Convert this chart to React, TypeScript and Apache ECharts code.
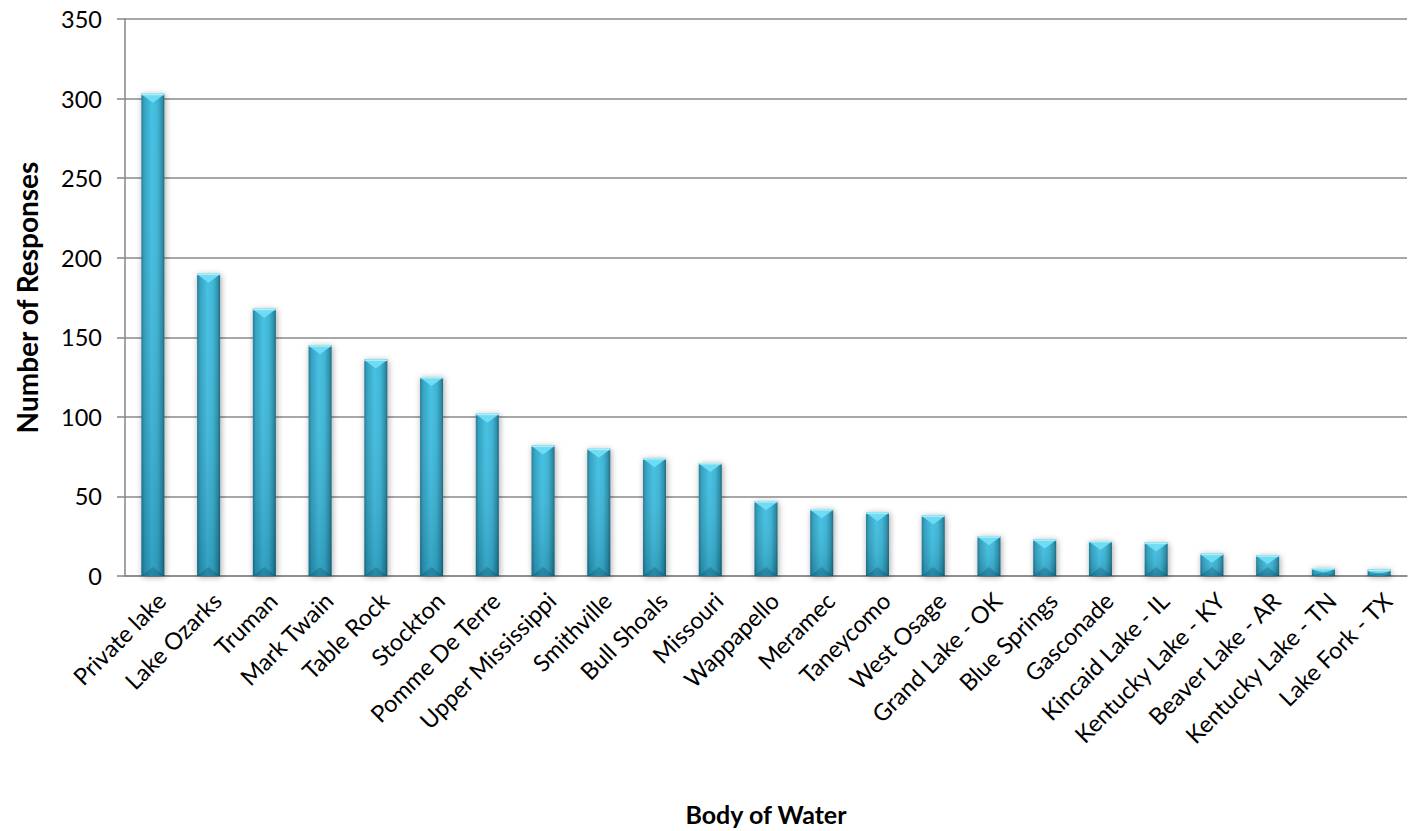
import React, { useEffect, useRef } from "react";
import * as echarts from "echarts";

const categories = [
  "Private lake", "Lake Ozarks", "Truman", "Mark Twain", "Table Rock", "Stockton",
  "Pomme De Terre", "Upper Mississippi", "Smithville", "Bull Shoals", "Missouri",
  "Wappapello", "Meramec", "Taneycomo", "West Osage", "Grand Lake - OK",
  "Blue Springs", "Gasconade", "Kincaid Lake - IL", "Kentucky Lake - KY",
  "Beaver Lake - AR", "Kentucky Lake - TN", "Lake Fork - TX",
];
const responses = [
  303, 190, 168, 145, 136, 125, 102, 82, 80, 74, 71, 47, 42, 40, 38, 25, 23, 22, 21, 14, 13, 5, 4,
];
const yTicks = [0, 50, 100, 150, 200, 250, 300, 350];

const FONT = "Lato";

export default function App() {
  const ref = useRef<HTMLDivElement>(null);
  useEffect(() => {
    if (!ref.current) return;
    const chart = echarts.init(ref.current, null, { renderer: "svg" });
    const bodyGrad = new echarts.graphic.LinearGradient(0, 0, 1, 0, [
      { offset: 0, color: "#1d7590" },
      { offset: 0.12, color: "#2c9dbd" },
      { offset: 0.45, color: "#3ebfe2" },
      { offset: 0.7, color: "#38b3d5" },
      { offset: 0.9, color: "#248ca8" },
      { offset: 1, color: "#186177" },
    ]);
    const shadeGrad = new echarts.graphic.LinearGradient(0, 0, 0, 1, [
      { offset: 0, color: "rgba(255,255,255,0.04)" },
      { offset: 1, color: "rgba(0,40,60,0.2)" },
    ]);
    chart.setOption({
      animation: false,
      grid: { left: 125, right: 10, top: 19, bottom: 251 },
      xAxis: {
        type: "category",
        data: categories,
        name: "Body of Water",
        nameLocation: "middle",
        nameGap: 225,
        nameTextStyle: { fontFamily: FONT, fontSize: 25, fontWeight: "bold", color: "#000" },
        axisLine: { lineStyle: { color: "#868686", width: 1.5 } },
        axisTick: { show: false },
        axisLabel: {
          interval: 0,
          rotate: 45,
          margin: 12,
          verticalAlign: "top",
          fontFamily: FONT,
          fontSize: 23.5,
          color: "#000",
        },
      },
      yAxis: {
        type: "value",
        min: 0,
        max: 350,
        interval: 50,
        name: "Number of Responses",
        nameLocation: "middle",
        nameGap: 84,
        nameTextStyle: { fontFamily: FONT, fontSize: 28, fontWeight: "bold", color: "#000" },
        axisLine: { show: true, lineStyle: { color: "#868686", width: 1.5 } },
        axisTick: { show: true, length: 8, lineStyle: { color: "#868686", width: 1.5 } },
        axisLabel: {
          margin: 23,
          fontFamily: FONT,
          fontSize: 23.5,
          color: "#000",
          formatter: (v: number) => (yTicks.includes(v) ? String(v) : ""),
        },
        splitLine: { lineStyle: { color: "#8a8a8a", width: 1.5 } },
      },
      series: [
        {
          type: "custom",
          data: responses.map((v, i) => [i, v]),
          encode: { x: 0, y: 1 },
          renderItem: (params: any, api: any) => {
            const idx = api.value(0);
            const v = api.value(1);
            const base = api.coord([idx, 0]);
            const top = api.coord([idx, v]);
            const bw = 23;
            const x = base[0] - bw / 2;
            const h = base[1] - top[1];
            const cap = Math.min(9, h * 0.55);
            return {
              type: "group",
              children: [
                {
                  type: "rect",
                  shape: { x, y: top[1], width: bw, height: h },
                  style: {
                    fill: bodyGrad,
                    shadowBlur: 6,
                    shadowColor: "rgba(0,0,0,0.35)",
                    shadowOffsetX: 1,
                    shadowOffsetY: 1,
                  },
                },
                {
                  type: "rect",
                  shape: { x, y: top[1], width: bw, height: h },
                  style: { fill: shadeGrad },
                },
                {
                  type: "polygon",
                  shape: {
                    points: [
                      [x, base[1]],
                      [x + bw, base[1]],
                      [x + bw / 2, base[1] - cap],
                    ],
                  },
                  style: { fill: "rgba(10,60,80,0.25)" },
                },
                {
                  type: "polygon",
                  shape: {
                    points: [
                      [x, top[1]],
                      [x + bw, top[1]],
                      [x + bw - 2, top[1] + Math.min(2, h)],
                      [x + bw / 2, top[1] + cap],
                      [x + 2, top[1] + Math.min(2, h)],
                    ],
                  },
                  style: { fill: "#6fdcf4" },
                },
                {
                  type: "rect",
                  shape: { x, y: top[1], width: bw, height: Math.min(1.5, h) },
                  style: { fill: "#a8effb" },
                },
              ],
            };
          },
        },
      ],
    });
    return () => chart.dispose();
  }, []);
  return (
    <div
      ref={ref}
      style={{ position: "absolute", left: 0, top: 0, width: 1417, height: 831 }}
    />
  );
}
